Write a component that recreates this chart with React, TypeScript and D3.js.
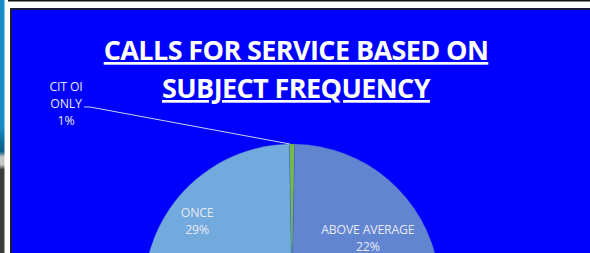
import React, { useEffect, useRef } from "react";
import * as d3 from "d3";

// slice order runs clockwise from 12 o'clock
const categories = ["CIT OI ONLY", "ABOVE AVERAGE", "AVERAGE", "BELOW AVERAGE", "ONCE"];
const shares = [0.6, 22, 30, 18.4, 29];
const sliceColors = [
    ["#76b84c", "#68a640"],
    ["#6285d2", "#3f6cc6"],
    ["#a5a5a5", "#8f8f8f"],
    ["#ffc000", "#e8ad00"],
    ["#72aadd", "#5898d4"],
];
const titleLines = ["CALLS FOR SERVICE BASED ON", "SUBJECT FREQUENCY"];
const labelLines = {
    "CIT OI ONLY": ["CIT OI", "ONLY"],
    "ABOVE AVERAGE": ["ABOVE AVERAGE"],
    AVERAGE: ["AVERAGE"],
    "BELOW AVERAGE": ["BELOW AVERAGE"],
    ONCE: ["ONCE"],
};

const W = 590;
const H = 253;

function App() {
    const ref = useRef<SVGSVGElement | null>(null);

    useEffect(() => {
        const svg = d3.select(ref.current);
        svg.selectAll("*").remove();

        const defs = svg.append("defs");

        // window frame bits around the chart panel
        const side = defs.append("linearGradient")
            .attr("id", "side").attr("x1", 0).attr("y1", 0).attr("x2", 0).attr("y2", 1);
        side.append("stop").attr("offset", "0.5").attr("stop-color", "#198ccb");
        side.append("stop").attr("offset", "0.56").attr("stop-color", "#0c6d9a");
        side.append("stop").attr("offset", "0.6").attr("stop-color", "#0d5f86");
        side.append("stop").attr("offset", "0.62").attr("stop-color", "#c4c6c8");
        side.append("stop").attr("offset", "0.65").attr("stop-color", "#c4c6c8");
        side.append("stop").attr("offset", "0.67").attr("stop-color", "#3d3d3d");
        side.append("stop").attr("offset", "1").attr("stop-color", "#3d3d3d");

        svg.append("rect").attr("width", W).attr("height", H).attr("fill", "#ffffff");
        svg.append("rect").attr("x", 0).attr("y", 0).attr("width", 4.5).attr("height", H).attr("fill", "url(#side)");
        svg.append("rect").attr("x", 8).attr("y", 0).attr("width", W - 8).attr("height", 1.5).attr("fill", "#111");
        svg.append("rect").attr("x", 10).attr("y", 8).attr("width", W - 10).attr("height", H - 8).attr("fill", "#1a1a3a");
        svg.append("rect").attr("x", 12).attr("y", 10).attr("width", W - 12).attr("height", H - 10).attr("fill", "#0000ff");

        // title
        svg.append("g")
            .selectAll("text")
            .data(titleLines)
            .enter()
            .append("text")
            .attr("x", 296)
            .attr("y", (d, i) => 60 + i * 38)
            .attr("text-anchor", "middle")
            .attr("font-family", "'Open Sans', sans-serif")
            .attr("font-weight", 700)
            .attr("font-size", 27)
            .attr("letter-spacing", -0.6)
            .attr("text-decoration", "underline")
            .attr("fill", "#ffffff")
            .text((d) => d);

        // pie
        const cx = 292;
        const cy = 292;
        const r = 148;
        const total = d3.sum(shares);
        const offset = -(shares[0] / total) * Math.PI;

        const pie = d3.pie<number>()
            .sort(null)
            .value((d) => d)
            .startAngle(offset)
            .endAngle(offset + 2 * Math.PI);
        const arcs = pie(shares);
        const arc = d3.arc<d3.PieArcDatum<number>>().innerRadius(0).outerRadius(r);

        sliceColors.forEach((c, i) => {
            const g = defs.append("linearGradient")
                .attr("id", "slice" + i)
                .attr("gradientUnits", "userSpaceOnUse")
                .attr("x1", 0).attr("y1", cy - r).attr("x2", 0).attr("y2", cy + r);
            g.append("stop").attr("offset", 0).attr("stop-color", c[0]);
            g.append("stop").attr("offset", 1).attr("stop-color", c[1]);
        });

        const pieG = svg.append("g").attr("transform", `translate(${cx},${cy})`);
        pieG.selectAll("path")
            .data(arcs)
            .enter()
            .append("path")
            .attr("d", arc)
            .attr("fill", (d, i) => `url(#slice${i})`)
            .attr("stroke", "#3a62b8")
            .attr("stroke-width", 0.3);

        // data labels: placement per slice, like Excel's best fit
        const placement = {
            "CIT OI ONLY": { outside: true, dx: -226, dy: -40 },
            "ABOVE AVERAGE": { radius: 0.63, shift: 0.24 },
            AVERAGE: { radius: 0.7, shift: 0 },
            "BELOW AVERAGE": { radius: 0.7, shift: 0 },
            ONCE: { radius: 0.8, shift: 0 },
        };
        const lineH = 17;

        arcs.forEach((a, i) => {
            const name = categories[i];
            const pct = Math.round((shares[i] / total) * 100) + "%";
            const lines = [...labelLines[name], pct];
            const p = placement[name];
            let lx, ly;
            if (p.outside) {
                const edge = d3.arc<d3.PieArcDatum<number>>().innerRadius(r).outerRadius(r).centroid(a);
                lx = edge[0] + p.dx;
                ly = edge[1] + p.dy;
                pieG.append("polyline")
                    .attr("points", `${edge[0] - 2},${edge[1]} ${lx + 24},${ly + 3} ${lx + 18},${ly + 3}`)
                    .attr("fill", "none")
                    .attr("stroke", "#c9d3ec")
                    .attr("stroke-width", 1);
            } else {
                const mid = (a.startAngle + a.endAngle) / 2 + p.shift;
                lx = Math.sin(mid) * r * p.radius;
                ly = -Math.cos(mid) * r * p.radius;
            }
            const top = ly - ((lines.length - 1) * lineH) / 2;
            pieG.append("g")
                .selectAll("text")
                .data(lines)
                .enter()
                .append("text")
                .attr("x", lx)
                .attr("y", (d, j) => top + j * lineH)
                .attr("dy", "0.36em")
                .attr("text-anchor", "middle")
                .attr("font-family", "'Open Sans', sans-serif")
                .attr("font-size", 12.3)
                .attr("letter-spacing", -0.2)
                .attr("fill", "#e6e8f2")
                .text((d) => d);
        });
    }, []);

    return (
        <svg
            ref={ref}
            width={W}
            height={H}
            style={{ position: "absolute", left: 0, top: 0, display: "block" }}
        />
    );
}

export default App;
